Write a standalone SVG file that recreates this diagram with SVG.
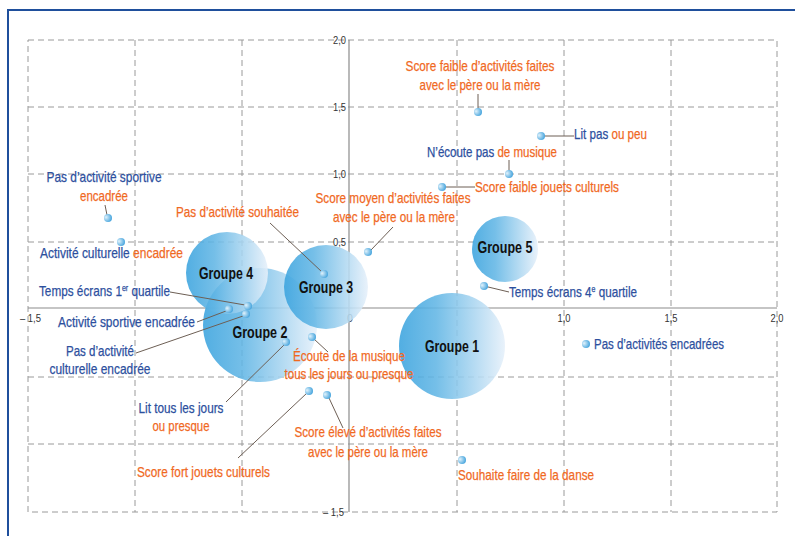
<svg xmlns="http://www.w3.org/2000/svg" width="795" height="536" viewBox="0 0 795 536">
<style>
text{font-family:"Liberation Sans",Arial,sans-serif;}
.lb{font-size:15px;stroke-width:0.25px;}
.b{fill:#2c4f9e;stroke:#2c4f9e;}
.o{fill:#f0691f;stroke:#f0691f;}
.lb.b, .lb.o{paint-order:stroke;}
.tick{font-size:10.5px;fill:#333;}
.grp{font-size:16.5px;font-weight:bold;fill:#111;text-anchor:middle;}
.grid{stroke:#9a9a9a;stroke-width:1;stroke-dasharray:6 4;fill:none;}
.axis{stroke:#8c8c8c;stroke-width:1.2;fill:none;}
.lead{stroke:#6d5f55;stroke-width:1;fill:none;}
.bub{fill:url(#bubg);fill-opacity:0.88;}
.dot{fill:url(#dotg);}
.m{text-anchor:middle;}
.sup{font-size:9px;}
</style>
<defs>
<linearGradient id="bubg" x1="0" y1="0" x2="1" y2="0">
<stop offset="0" stop-color="#3aa3de"/>
<stop offset="0.35" stop-color="#62b6e5"/>
<stop offset="1" stop-color="#e6f0fa"/>
</linearGradient>
<radialGradient id="dotg" cx="0.35" cy="0.45" r="0.7" fx="0.25" fy="0.4">
<stop offset="0" stop-color="#e3f3fc"/>
<stop offset="1" stop-color="#3b9fdb"/>
</radialGradient>
</defs>
<rect width="795" height="536" fill="#fff"/>
<rect x="8" y="10" width="800" height="540" fill="none" stroke="#1f4f9c" stroke-width="2"/>

<g id="grid">
<rect class="grid" x="28" y="40" width="749" height="472"/>
<path class="grid" d="M135 40V512M242 40V512M457 40V512M564 40V512M671 40V512M28 107H777M28 174H777M28 242H777M28 377H777M28 444H777"/>
<path class="axis" d="M349 40V512M28 308H777"/>
</g>
<g id="ticks" class="tick">
<text x="346" y="44" text-anchor="end" textLength="13" lengthAdjust="spacingAndGlyphs">2,0</text>
<text x="346" y="111" text-anchor="end" textLength="13" lengthAdjust="spacingAndGlyphs">1,5</text>
<text x="346" y="178" text-anchor="end" textLength="13" lengthAdjust="spacingAndGlyphs">1,0</text>
<text x="346" y="246" text-anchor="end" textLength="13" lengthAdjust="spacingAndGlyphs">0,5</text>
<text x="344" y="516" text-anchor="end" textLength="21" lengthAdjust="spacingAndGlyphs">– 1,5</text>
<text x="20" y="322" textLength="21" lengthAdjust="spacingAndGlyphs">– 1,5</text>
<text x="350" y="322" text-anchor="middle">0</text>
<text x="564" y="322" text-anchor="middle" textLength="13" lengthAdjust="spacingAndGlyphs">1,0</text>
<text x="671" y="322" text-anchor="middle" textLength="13" lengthAdjust="spacingAndGlyphs">1,5</text>
<text x="777" y="322" text-anchor="middle" textLength="13" lengthAdjust="spacingAndGlyphs">2,0</text>
</g>

<g id="groupe2"><circle class="bub" cx="260" cy="325" r="57"/><text class="grp" x="260" y="338" textLength="55" lengthAdjust="spacingAndGlyphs">Groupe 2</text></g>
<g id="groupe4"><circle class="bub" cx="227" cy="273" r="41"/><text class="grp" x="226" y="279" textLength="54" lengthAdjust="spacingAndGlyphs">Groupe 4</text></g>
<g id="groupe3"><circle class="bub" cx="326" cy="287" r="42"/><text class="grp" x="326" y="293" textLength="54" lengthAdjust="spacingAndGlyphs">Groupe 3</text></g>
<g id="groupe5"><circle class="bub" cx="505" cy="249" r="33"/><text class="grp" x="505" y="253" textLength="55" lengthAdjust="spacingAndGlyphs">Groupe 5</text></g>
<g id="groupe1"><circle class="bub" cx="452" cy="346" r="53"/><text class="grp" x="452" y="352" textLength="54" lengthAdjust="spacingAndGlyphs">Groupe 1</text></g>

<g id="connectors">
<path class="lead" d="M105 205L107 215"/>
<path class="lead" d="M270 223L322 272"/>
<path class="lead" d="M393 227L371 250"/>
<path class="lead" d="M478 94V109"/>
<path class="lead" d="M541 136H574"/>
<path class="lead" d="M509 160V171"/>
<path class="lead" d="M442 187H475"/>
<path class="lead" d="M484 286L509 292"/>
<path class="lead" d="M170 292L245 305"/>
<path class="lead" d="M197 322L226 311"/>
<path class="lead" d="M136 353L243 316"/>
<path class="lead" d="M226 402L285 344"/>
<path class="lead" d="M314 339L328 352"/>
<path class="lead" d="M238 458L307 393"/>
<path class="lead" d="M329 398L343 428"/>
</g>

<g id="n-pas-sport"><circle class="dot" cx="108" cy="218" r="4"/><text class="lb b m" x="104" y="182" textLength="115" lengthAdjust="spacingAndGlyphs">Pas d’activité sportive</text><text class="lb o m" x="104" y="201" textLength="48" lengthAdjust="spacingAndGlyphs">encadrée</text></g>
<g id="n-cult-enc"><circle class="dot" cx="121" cy="242" r="4"/><text class="lb" x="40" y="258" textLength="143" lengthAdjust="spacingAndGlyphs"><tspan class="b">Activité culturelle </tspan><tspan class="o">encadrée</tspan></text></g>
<g id="n-pas-souhait"><circle class="dot" cx="324" cy="274" r="4"/><text class="lb o" x="176" y="217" textLength="123" lengthAdjust="spacingAndGlyphs">Pas d’activité souhaitée</text></g>
<g id="n-score-moyen"><circle class="dot" cx="368" cy="252" r="4"/><text class="lb o m" x="393" y="203" textLength="155" lengthAdjust="spacingAndGlyphs">Score moyen d’activités faites</text><text class="lb o m" x="394" y="222" textLength="122" lengthAdjust="spacingAndGlyphs">avec le père ou la mère</text></g>
<g id="n-score-faible"><circle class="dot" cx="478" cy="112" r="4"/><text class="lb o m" x="480" y="71" textLength="149" lengthAdjust="spacingAndGlyphs">Score faible d’activités faites</text><text class="lb o m" x="480" y="90" textLength="121" lengthAdjust="spacingAndGlyphs">avec le père ou la mère</text></g>
<g id="n-lit-pas"><circle class="dot" cx="541" cy="136" r="4"/><text class="lb" x="574" y="139" textLength="73" lengthAdjust="spacingAndGlyphs"><tspan class="b">Lit pas </tspan><tspan class="o">ou peu</tspan></text></g>
<g id="n-ecoute-pas"><circle class="dot" cx="509" cy="174" r="4"/><text class="lb" x="427" y="157" textLength="130" lengthAdjust="spacingAndGlyphs"><tspan class="b">N’écoute pas </tspan><tspan class="o">de musique</tspan></text></g>
<g id="n-jouets-faible"><circle class="dot" cx="442" cy="187" r="4"/><text class="lb o" x="475" y="192" textLength="144" lengthAdjust="spacingAndGlyphs">Score faible jouets culturels</text></g>
<g id="n-ecrans4"><circle class="dot" cx="484" cy="286" r="4"/><text class="lb b" x="509" y="297" textLength="128" lengthAdjust="spacingAndGlyphs">Temps écrans 4<tspan class="sup" dy="-5">e</tspan><tspan dy="5"> quartile</tspan></text></g>
<g id="n-pas-enc"><circle class="dot" cx="586" cy="344" r="4"/><text class="lb b" x="594" y="349" textLength="130" lengthAdjust="spacingAndGlyphs">Pas d’activités encadrées</text></g>
<g id="n-danse"><circle class="dot" cx="462" cy="460" r="4"/><text class="lb o" x="458" y="480" textLength="136" lengthAdjust="spacingAndGlyphs">Souhaite faire de la danse</text></g>
<g id="n-ecrans1"><circle class="dot" cx="248" cy="306" r="4"/><text class="lb b" x="39" y="296" textLength="131" lengthAdjust="spacingAndGlyphs">Temps écrans 1<tspan class="sup" dy="-5">er</tspan><tspan dy="5"> quartile</tspan></text></g>
<g id="n-sport-enc"><circle class="dot" cx="229" cy="309" r="4"/><text class="lb b" x="58" y="327" textLength="137" lengthAdjust="spacingAndGlyphs">Activité sportive encadrée</text></g>
<g id="n-pas-cult"><circle class="dot" cx="246" cy="314" r="4"/><text class="lb b m" x="100" y="356" textLength="68" lengthAdjust="spacingAndGlyphs">Pas d’activité</text><text class="lb b m" x="100" y="374" textLength="101" lengthAdjust="spacingAndGlyphs">culturelle encadrée</text></g>
<g id="n-lit-tous"><circle class="dot" cx="286" cy="342" r="4"/><text class="lb b m" x="181" y="413" textLength="85" lengthAdjust="spacingAndGlyphs">Lit tous les jours</text><text class="lb o m" x="181" y="431" textLength="57" lengthAdjust="spacingAndGlyphs">ou presque</text></g>
<g id="n-ecoute-tous"><circle class="dot" cx="312" cy="337" r="4"/><text class="lb o m" x="349" y="361" textLength="112" lengthAdjust="spacingAndGlyphs">Écoute de la musique</text><text class="lb o m" x="349" y="379" textLength="129" lengthAdjust="spacingAndGlyphs">tous les jours ou presque</text></g>
<g id="n-jouets-fort"><circle class="dot" cx="309" cy="391" r="4"/><text class="lb o" x="137" y="477" textLength="133" lengthAdjust="spacingAndGlyphs">Score fort jouets culturels</text></g>
<g id="n-score-eleve"><circle class="dot" cx="327" cy="395" r="4"/><text class="lb o m" x="368" y="437" textLength="147" lengthAdjust="spacingAndGlyphs">Score élevé d’activités faites</text><text class="lb o m" x="368" y="457" textLength="120" lengthAdjust="spacingAndGlyphs">avec le père ou la mère</text></g>
</svg>
